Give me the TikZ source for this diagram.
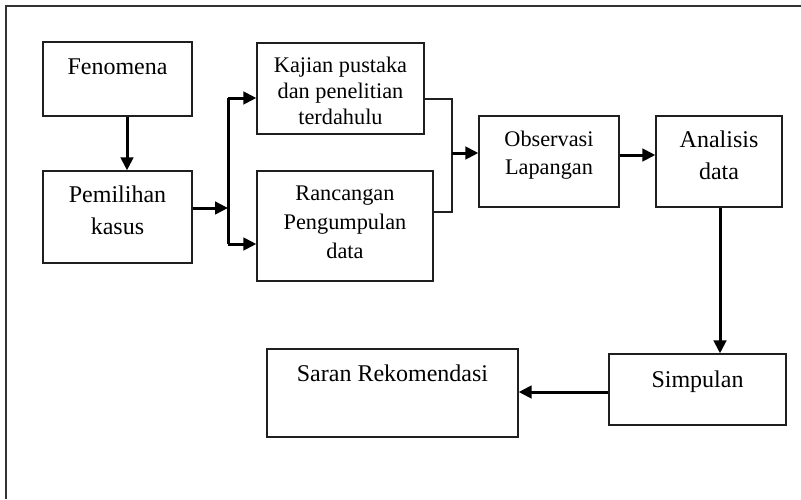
\documentclass[tikz,border=0pt]{standalone}
\usepackage{fontspec}
\setmainfont{Liberation Serif}
\usetikzlibrary{arrows.meta}
\begin{document}
\begin{tikzpicture}[x=1pt,y=-1pt,
  box/.style={draw=black!88, line width=1.3pt, rectangle, inner sep=0pt},
  bigtxt/.style={font=\fontsize{24}{32}\selectfont, align=center, anchor=base, inner sep=0pt},
  smalltxt/.style={font=\fontsize{22.3}{26}\selectfont, align=center, anchor=base, inner sep=0pt},
  arr/.style={draw=black, line width=3pt, -{Triangle[length=13pt,width=12.5pt]}},
  bar/.style={draw=black, line width=3pt},
  thinline/.style={draw=black!88, line width=1.3pt}]
\useasboundingbox (0,0) rectangle (801,499);
% frame (only top and left edges visible)
\draw[line width=2pt, black!80] (6,499) -- (6,6) -- (801,6);

% boxes
\node[box, minimum width=149pt, minimum height=74pt]  (fen) at (117.5,79)   {};
\node[box, minimum width=149pt, minimum height=92pt]  (pem) at (117.5,217)  {};
\node[box, minimum width=167pt, minimum height=91pt]  (kaj) at (340.5,88.5) {};
\node[box, minimum width=176pt, minimum height=110pt] (ran) at (345,226)    {};
\node[box, minimum width=140pt, minimum height=91pt]  (obs) at (549,161.5)  {};
\node[box, minimum width=126pt, minimum height=91pt]  (ana) at (719,161.5)  {};
\node[box, minimum width=177pt, minimum height=71pt]  (sim) at (697.5,389.5){};
\node[box, minimum width=251pt, minimum height=88pt]  (sar) at (392.5,393)  {};

% texts (anchor = baseline of the last line)
\node[bigtxt] (tfen) at (117.5,74) {Fenomena};
\node[bigtxt] (tpem) at (117.5,234) {Pemilihan\\kasus};
\node[smalltxt] (tkaj) at (340.5,124) {Kajian pustaka\\dan penelitian\\terdahulu};
\node[smalltxt, font=\fontsize{22.3}{29}\selectfont] (tran) at (345,258) {Rancangan\\Pengumpulan\\data};
\node[smalltxt, font=\fontsize{22.3}{28}\selectfont] (tobs) at (549,174) {Observasi\\Lapangan};
\node[bigtxt] (tana) at (719,179) {Analisis\\data};
\node[bigtxt] (tsim) at (697.5,387) {Simpulan};
\node[bigtxt] (tsar) at (392.5,381) {Saran Rekomendasi};

% connectors
\draw[arr] ([xshift=9.5pt]fen.south) -- ([xshift=9.5pt]pem.north);

\coordinate (sp)  at (228,208);
\coordinate (spT) at (228,98);
\coordinate (spB) at (228,244);
\draw[arr] (pem.east |- sp) -- (sp);
\draw[bar] (spT) -- (spB);
\draw[arr] (spT) -- (spT -| kaj.west);
\draw[arr] (spB) -- (spB -| ran.west);

\coordinate (bT) at (452,99);
\coordinate (bB) at (452,212);
\coordinate (bM) at (452,153);
\draw[thinline] (bT -| kaj.east) -- (bT) -- (bB) -- (bB -| ran.east);
\draw[arr] (bM) -- (bM -| obs.west);

\coordinate (oa) at (637,155);
\draw[arr] (oa -| obs.east) -- (oa -| ana.west);

\coordinate (av) at (720,280);
\draw[arr] (av |- ana.south) -- (av |- sim.north);

\coordinate (ss) at (560,392);
\draw[arr] (ss -| sim.west) -- (ss -| sar.east);
\end{tikzpicture}
\end{document}
